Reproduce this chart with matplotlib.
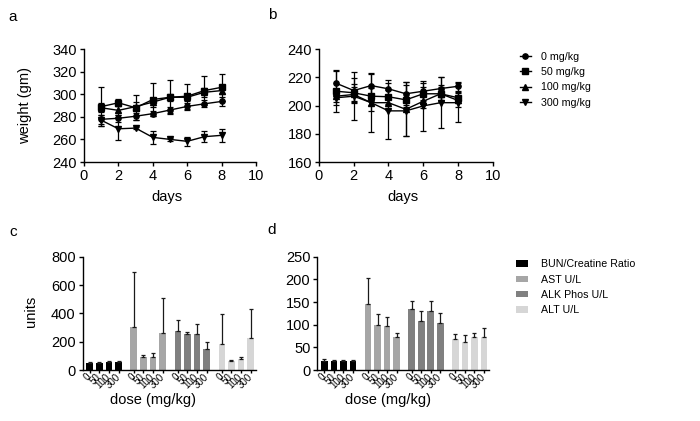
import numpy as np
import matplotlib
matplotlib.use("Agg")
import matplotlib.pyplot as plt
from matplotlib.lines import Line2D
from matplotlib.patches import Patch

plt.rcParams['font.family'] = ['Liberation Sans', 'DejaVu Sans']

# ---- body weight data (panels a, b) ----
days = [1, 2, 3, 4, 5, 6, 7, 8]
dose_labels = ['0 mg/kg', '50 mg/kg', '100 mg/kg', '300 mg/kg']
markers = ['o', 's', '^', 'v']

a_0 = [277.8, 278.7, 280.5, 282.8, 286.0, 289.2, 291.5, 293.6]
a_0_err = [4, 3, 3, 2, 3, 3, 3, 4]
a_50 = [289.0, 292.4, 288.0, 295.3, 297.3, 298.2, 303.2, 306.1]
a_50_err = [17, 3, 11, 15, 15, 11, 13, 12]
a_100 = [288.0, 285.7, 289.0, 293.0, 297.3, 297.3, 301.7, 303.2]
a_100_err = [4, 4, 4, 4, 3, 3, 4, 3]
a_300 = [277.0, 269.4, 270.0, 261.8, 260.0, 258.3, 262.4, 263.6]
a_300_err = [5, 10, 1, 6, 1, 4, 5, 6]

b_0 = [215.7, 210.6, 214.1, 211.8, 208.3, 210.1, 212.0, 213.6]
b_0_err = [9, 9, 8, 6, 8, 6, 8, 3]
b_50 = [210.1, 209.0, 206.6, 206.2, 204.0, 208.3, 208.3, 205.5]
b_50_err = [15, 6, 6, 5, 5, 5, 6, 4]
b_100 = [206.6, 207.8, 202.0, 202.0, 197.3, 203.0, 208.3, 203.6]
b_100_err = [4, 5, 21, 5, 19, 5, 5, 5]
b_300 = [205.5, 206.6, 202.0, 196.2, 196.2, 199.7, 202.0, 202.0]
b_300_err = [5, 17, 6, 20, 18, 18, 18, 14]

# ---- blood chemistry data (panels c, d) ----
doses = ['0', '50', '100', '300']
tests = ['BUN/Creatine Ratio', 'AST U/L', 'ALK Phos U/L', 'ALT U/L']
test_colors = ['#000000', '#a6a6a6', '#808080', '#d6d6d6']

c_vals = [[48, 52, 55, 58],
          [301, 89, 94, 259],
          [278, 254, 252, 148],
          [181, 64, 78, 224]]
c_errs = [[8, 7, 7, 8],
          [388, 17, 24, 252],
          [77, 12, 70, 47],
          [214, 9, 16, 204]]

d_vals = [[20.4, 19.7, 19.0, 19.0],
          [146.5, 98.4, 97.0, 72.9],
          [135.6, 108.6, 131.2, 104.2],
          [67.8, 62.0, 73.6, 73.6]]
d_errs = [[3, 3, 3, 3],
          [56, 25, 21, 9],
          [16, 22, 20, 22],
          [12, 14.5, 9, 20]]

fig = plt.figure(figsize=(7.0, 4.21), dpi=100)

ax_a = fig.add_axes([0.120, 0.6152, 0.2457, 0.2684])
ax_b = fig.add_axes([0.4557, 0.6152, 0.2482, 0.2684])
ax_c = fig.add_axes([0.118, 0.1211, 0.2477, 0.2692])
ax_d = fig.add_axes([0.4533, 0.1211, 0.2457, 0.2692])


def style_axes(ax):
    for side in ['top', 'right']:
        ax.spines[side].set_visible(False)
    for side in ['left', 'bottom']:
        ax.spines[side].set_linewidth(1.0)
    ax.tick_params(direction='out', length=3, width=1.0, labelsize=10.5, pad=2)


def weight_panel(ax, series, errs, ylim, yticks):
    for vals, err, m in zip(series, errs, markers):
        ax.errorbar(days, vals, yerr=err, fmt='-', marker=m, color='black',
                    markersize=3.8, linewidth=1.0, elinewidth=0.9,
                    capsize=2, capthick=0.9)
    ax.set_xlim(0, 10)
    ax.set_xticks([0, 2, 4, 6, 8, 10])
    ax.set_ylim(*ylim)
    ax.set_yticks(yticks)
    style_axes(ax)
    ax.set_xlabel('days', fontsize=10.5)
    ax.xaxis.set_label_coords(0.485, -0.245)


weight_panel(ax_a, [a_0, a_50, a_100, a_300],
             [a_0_err, a_50_err, a_100_err, a_300_err],
             (240, 340), [240, 260, 280, 300, 320, 340])
ax_a.set_ylabel('weight (gm)', fontsize=10.5)
ax_a.yaxis.set_label_coords(-0.30, 0.5)

weight_panel(ax_b, [b_0, b_50, b_100, b_300],
             [b_0_err, b_50_err, b_100_err, b_300_err],
             (160, 240), [160, 180, 200, 220, 240])

group_gap = 4.6
bar_w = 0.7


def chem_panel(ax, vals, errs, ylim, yticks):
    pos_all = []
    lab_all = []
    for g, (v, e, col) in enumerate(zip(vals, errs, test_colors)):
        pos = np.arange(len(doses)) + g * group_gap
        ax.bar(pos, v, width=bar_w, color=col, edgecolor='none')
        ax.errorbar(pos, v, yerr=[np.zeros(len(e)), e], fmt='none',
                    ecolor='#1a1a1a', elinewidth=0.9, capsize=1.5, capthick=0.9)
        pos_all.extend(pos)
        lab_all.extend(doses)
    ax.set_xlim(-0.75, 3 * group_gap + 3 + 0.56)
    ax.set_ylim(*ylim)
    ax.set_yticks(yticks)
    style_axes(ax)
    ax.set_xticks(pos_all)
    ax.set_xticklabels(lab_all, rotation=45, ha='right', va='center',
                       rotation_mode='anchor', fontsize=7)
    ax.tick_params(axis='x', length=2, pad=2)
    ax.set_xlabel('dose (mg/kg)', fontsize=10.5)


chem_panel(ax_c, c_vals, c_errs, (0, 800), [0, 200, 400, 600, 800])
ax_c.xaxis.set_label_coords(0.406, -0.20)
ax_c.set_ylabel('units', fontsize=10.5)
ax_c.yaxis.set_label_coords(-0.26, 0.515)

chem_panel(ax_d, d_vals, d_errs, (0, 250), [0, 50, 100, 150, 200, 250])
ax_d.xaxis.set_label_coords(0.413, -0.20)

# legends
line_handles = [Line2D([0], [0], color='black', marker=m, markersize=3.8,
                       linewidth=1.0) for m in markers]
fig.legend(line_handles, dose_labels, loc='upper left',
           bbox_to_anchor=(0.735, 0.890), frameon=False, fontsize=7.7,
           borderpad=0, handlelength=1.0, handletextpad=1.0,
           labelspacing=0.5)

bar_handles = [Patch(facecolor=c, edgecolor='none') for c in test_colors]
fig.legend(bar_handles, tests, loc='upper left',
           bbox_to_anchor=(0.730, 0.397), frameon=False, fontsize=7.7,
           borderpad=0, handlelength=1.05, handleheight=0.55,
           handletextpad=1.3, labelspacing=0.5)

# panel letters
for txt, x, y in [('a', 13, 17), ('b', 272, 15), ('c', 13, 232), ('d', 272, 230)]:
    fig.text(x / 700, 1 - y / 421, txt, fontsize=11, ha='center', va='center')

fig.savefig('out.png', dpi=100, facecolor='white')
